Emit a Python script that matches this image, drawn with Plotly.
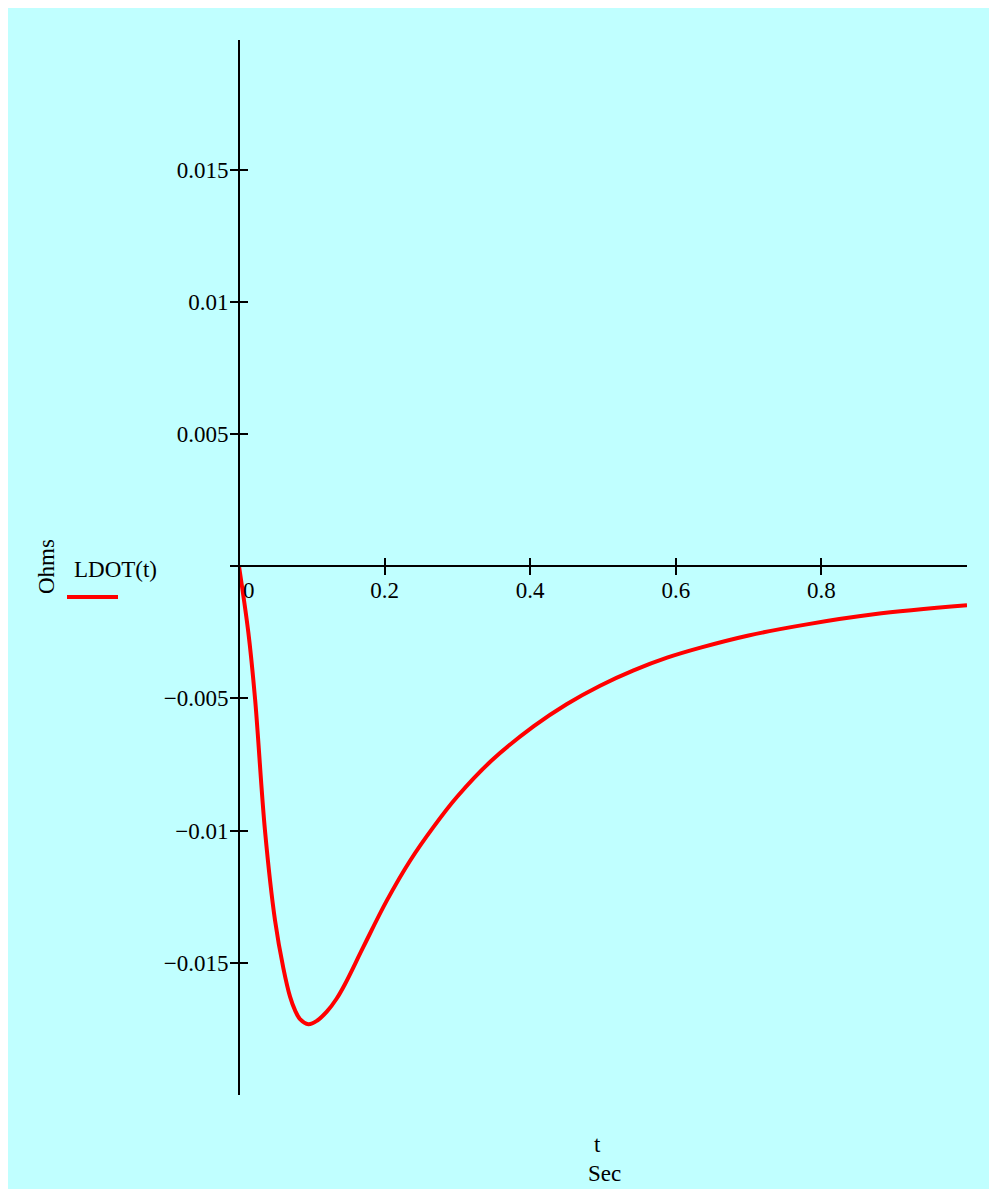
import plotly.graph_objects as go

# Data (t in seconds, LDOT in Ohms)
t_vals = [0.0, 0.0128, 0.022, 0.0357, 0.0495, 0.0609, 0.0701, 0.077, 0.0838, 0.0953,
          0.1076, 0.1206, 0.134, 0.1457, 0.171, 0.203, 0.235, 0.267, 0.299, 0.347,
          0.405, 0.450, 0.496, 0.542, 0.588, 0.634, 0.700, 0.780, 0.872, 1.0]
ldot_vals = [0.0, -0.0025, -0.0050, -0.0100, -0.0134, -0.0152, -0.01628, -0.0168, -0.01713, -0.01732,
             -0.01718, -0.01685, -0.01636, -0.0158, -0.01439, -0.01265, -0.01114, -0.00987, -0.00874, -0.00735,
             -0.00605, -0.00522, -0.00452, -0.00394, -0.00346, -0.00308, -0.00262, -0.0022, -0.00182, -0.00148]

x_ticks = [0.2, 0.4, 0.6, 0.8]
x_ticktext = ["0.2", "0.4", "0.6", "0.8"]
y_ticks = [-0.015, -0.01, -0.005, 0, 0.005, 0.01, 0.015]
y_ticktext = ["\u22120.015", "\u22120.01", "\u22120.005", "", "0.005", "0.01", "0.015"]

X_RANGE = [0, 1]
Y_RANGE = [-0.02, 0.0199]

FONT = "Liberation Serif"
BG = "#C0FFFF"
OFF = 8  # page body margin
W, H = 981, 1181
ML, MT = 239 - OFF, 40 - OFF
MR = W - (967 - OFF)
MB = H - (1095 - OFF)
PW, PH = W - ML - MR, H - MT - MB


def px_x(p):
    return (p - OFF - ML) / PW


def px_y(p):
    return 1 - (p - OFF - MT) / PH


zero_pos = (0 - Y_RANGE[0]) / (Y_RANGE[1] - Y_RANGE[0])

fig = go.Figure()
fig.add_trace(go.Scatter(x=t_vals, y=ldot_vals, mode="lines",
                         line=dict(color="#FF0000", width=4, shape="spline", smoothing=1.0),
                         showlegend=False, hoverinfo="skip"))
fig.add_trace(go.Scatter(x=[None], y=[None], xaxis="x2", yaxis="y2",
                         mode="lines", showlegend=False))

tickfont = dict(family=FONT, size=23, color="black")

fig.update_layout(
    width=W, height=H,
    margin=dict(l=ML, r=MR, t=MT, b=MB, pad=0),
    paper_bgcolor=BG, plot_bgcolor="rgba(0,0,0,0)",
    showlegend=False,
    xaxis=dict(range=X_RANGE, anchor="free", position=zero_pos,
               showline=True, linecolor="black", linewidth=2,
               ticks="outside", ticklen=8, tickwidth=2, tickcolor="black",
               tickvals=x_ticks, ticktext=x_ticktext, tickfont=tickfont,
               ticklabelstandoff=-5,
               showgrid=False, zeroline=False),
    xaxis2=dict(range=X_RANGE, overlaying="x", anchor="free", position=zero_pos,
                showline=False, ticks="inside", ticklen=8, tickwidth=2, tickcolor="black",
                tickvals=x_ticks, showticklabels=False, showgrid=False, zeroline=False),
    yaxis=dict(range=Y_RANGE, anchor="free", position=0,
               showline=True, linecolor="black", linewidth=2,
               ticks="outside", ticklen=8, tickwidth=2, tickcolor="black",
               tickvals=y_ticks, ticktext=y_ticktext, tickfont=tickfont,
               ticklabelstandoff=-3,
               showgrid=False, zeroline=False),
    yaxis2=dict(range=Y_RANGE, overlaying="y", anchor="free", position=0,
                showline=False, ticks="inside", ticklen=8, tickwidth=2, tickcolor="black",
                tickvals=y_ticks, showticklabels=False, showgrid=False, zeroline=False),
)


def label(px, py, text, **kw):
    fig.add_annotation(x=px_x(px), y=px_y(py), xref="paper", yref="paper",
                       xanchor="center", yanchor="middle",
                       text=text, showarrow=False, font=tickfont, **kw)


# "0" label at origin
label(249, 590, "0")

# Legend: text above a line sample
label(115, 569, "LDOT(t)")
fig.add_shape(type="line", xref="paper", yref="paper",
              x0=px_x(67), x1=px_x(118), y0=px_y(597), y1=px_y(597),
              line=dict(color="#FF0000", width=4))

# Y axis title (rotated)
label(47, 567, "Ohms", textangle=-90)

# X axis title
label(597, 1144, "t")
label(604, 1173, "Sec")

fig.write_html("out.html")
